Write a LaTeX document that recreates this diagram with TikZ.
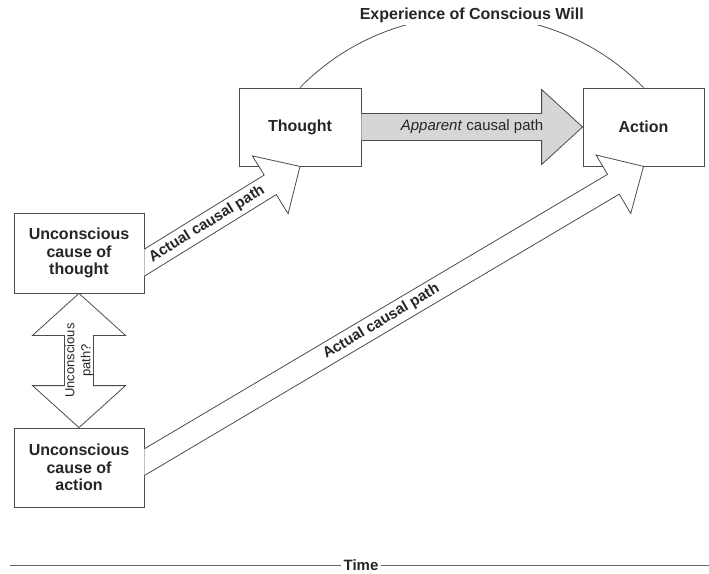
\documentclass[tikz,border=0pt]{standalone}
\usepackage{fontspec}
\setmainfont{Liberation Sans}
\usepackage{tikz}
\usetikzlibrary{calc}

\definecolor{lineg}{gray}{0.3}
\definecolor{textg}{gray}{0.15}
\definecolor{apparentg}{gray}{0.84}

% block arrow: options, from, to, shaft half width, head half width, head length
\newcommand{\fatarrow}[6][]{%
  \coordinate (hb) at ($(#3)!#6!(#2)$);
  \filldraw[#1] ($(#2)!#4!90:(#3)$) -- ($(hb)!#4!90:(#3)$) -- ($(hb)!#5!90:(#3)$) -- (#3)
    -- ($(hb)!#5!-90:(#3)$) -- ($(hb)!#4!-90:(#3)$) -- ($(#2)!#4!-90:(#3)$);}
% same with a head at both ends
\newcommand{\fatdoublearrow}[6][]{%
  \coordinate (hb) at ($(#3)!#6!(#2)$);
  \coordinate (ha) at ($(#2)!#6!(#3)$);
  \filldraw[#1] (#2) -- ($(ha)!#5!90:(#3)$) -- ($(ha)!#4!90:(#3)$) -- ($(hb)!#4!90:(#3)$)
    -- ($(hb)!#5!90:(#3)$) -- (#3) -- ($(hb)!#5!-90:(#3)$) -- ($(hb)!#4!-90:(#3)$)
    -- ($(ha)!#4!-90:(#3)$) -- ($(ha)!#5!-90:(#3)$) -- cycle;}

\begin{document}
\begin{tikzpicture}[x=1pt,y=1pt,
    box/.style={draw=lineg, fill=white, line width=0.8pt, align=center, text=textg,
      font=\fontsize{16}{17.5}\selectfont\bfseries},
    pathlabel/.style={text=textg, font=\fontsize{15}{17}\selectfont\bfseries, inner sep=0pt},
    blockarrow/.style={draw=lineg, fill=white, line width=0.8pt}]
    \useasboundingbox (0,0) rectangle (709,-573);
    % boxes
    \node[box, minimum width=122pt, minimum height=78pt] (thought) at (300,-127) {Thought};
    \node[box, minimum width=121pt, minimum height=78pt] (action) at (643.5,-127) {Action};
    \node[box, minimum width=130pt, minimum height=80pt] (uct) at (79,-253) {Unconscious\\cause of\\thought};
    \node[box, minimum width=130pt, minimum height=79pt] (uca) at (79,-467.5) {Unconscious\\cause of\\action};
    % experience arc
    \draw[lineg, line width=0.8pt] (thought.north) to[out=45.6, in=134.4]
      node[pos=0.5, fill=white, text=textg, font=\fontsize{16}{18}\selectfont\bfseries, inner sep=2pt] (will)
      {Experience of Conscious Will} (action.north);
    % apparent path
    \fatarrow[blockarrow, fill=apparentg]{thought.east}{action.west}{13.5pt}{37.5pt}{41pt}
    \node[text=textg, font=\fontsize{15}{17}\selectfont] (apparent)
      at ($(thought.east)!0.5!(action.west)$) {\textit{Apparent} causal path};
    % actual paths
    \coordinate (uct-out) at ([shift={(-20,-22)}]uct.east);
    \coordinate (uca-out) at ([shift={(-20,-6.5)}]uca.east);
    \begin{scope}
        \clip (uct.east |- 0,0) rectangle (709,-573);
        \fatarrow[blockarrow]{uct-out}{thought.south}{11.5pt}{34pt}{35pt}
        \fatarrow[blockarrow]{uca-out}{action.south}{11.5pt}{34pt}{35pt}
    \end{scope}
    \path (uct-out) -- (thought.south) node[pathlabel, sloped, pos=0.47] (actual1) {Actual causal path};
    \path (uca-out) -- (action.south) node[pathlabel, sloped, pos=0.495] (actual2) {Actual causal path};
    % unconscious path
    \fatdoublearrow[blockarrow]{uca.north}{uct.south}{14.5pt}{46.5pt}{42pt}
    \node[rotate=90, align=center, text=textg, font=\fontsize{13}{16}\selectfont] (uncpath)
      at ($(uct.south)!0.5!(uca.north)$) {Unconscious\\path?};
    % time axis
    \coordinate (time-start) at (10,-565);
    \coordinate (time-end) at (709,-565);
    \node[font=\fontsize{15}{17}\selectfont\bfseries, text=textg, inner sep=2pt] (time) at (361,-565) {Time};
    \draw[gray!80!black, line width=1pt] (time-start) -- (time) -- (time-end);
\end{tikzpicture}
\end{document}
